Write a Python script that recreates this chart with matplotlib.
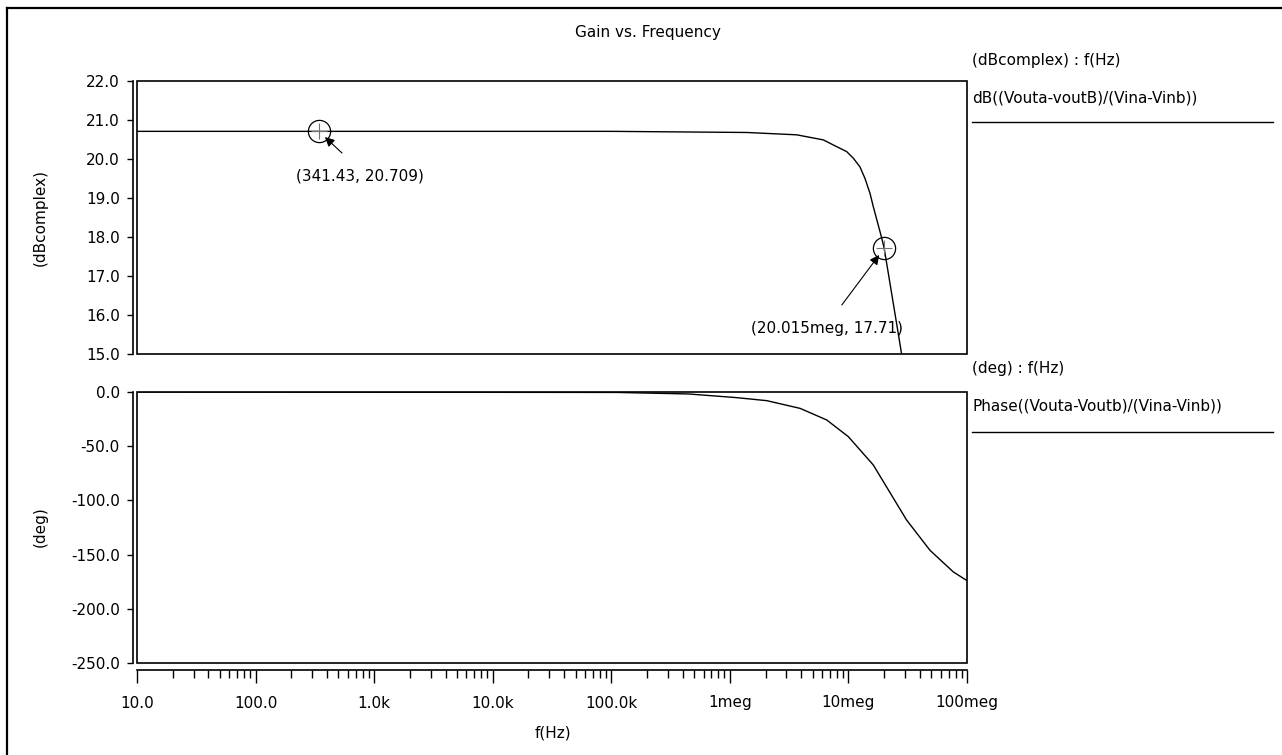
import matplotlib
matplotlib.use("Agg")
import matplotlib.pyplot as plt
from matplotlib.patches import Rectangle
from matplotlib.lines import Line2D
from matplotlib.ticker import FixedLocator, FixedFormatter, LogLocator, NullFormatter

plt.rcParams['font.family'] = ['DejaVu Sans']
plt.rcParams['font.size'] = 11

# gain curve
gain_freq = [10, 1e5, 1.39e6, 3.66e6, 6.14e6, 7.45e6, 9.66e6, 11.0e6, 12.5e6,
             13.8e6, 15.2e6, 16.2e6, 19.1e6, 20.015e6, 21.7e6, 27.2e6, 30e6]
gain_db = [20.709, 20.709, 20.68, 20.62, 20.49, 20.36, 20.19, 20.02, 19.80,
           19.50, 19.12, 18.78, 17.97, 17.71, 17.07, 15.26, 14.45]

# phase curve
phase_freq = [10, 1.11e5, 4.47e5, 1.14e6, 2.05e6, 3.91e6, 6.56e6, 9.98e6,
              16.2e6, 30.9e6, 48.7e6, 76.7e6, 1e8]
phase_deg = [0.0, -0.4, -1.8, -5.2, -8.0, -15.1, -25.8, -41.2,
             -67.3, -118.0, -146.0, -166.0, -174.0]

# markers
markers = [(341.43, 20.709), (20.015e6, 17.71)]
marker_labels = ["(341.43, 20.709)", "(20.015meg, 17.71)"]

gain_ticks = [15.0, 16.0, 17.0, 18.0, 19.0, 20.0, 21.0, 22.0]
phase_ticks = [-250.0, -200.0, -150.0, -100.0, -50.0, 0.0]
freq_ticks = [1e1, 1e2, 1e3, 1e4, 1e5, 1e6, 1e7, 1e8]
freq_labels = ["10.0", "100.0", "1.0k", "10.0k", "100.0k", "1meg", "10meg", "100meg"]

W, H = 1282, 755
fig = plt.figure(figsize=(W / 100, H / 100), dpi=100)
fig.patch.set_facecolor('white')

def px(x, y):
    return x / W, 1 - y / H

ax1 = fig.add_axes([137 / W, 1 - 354 / H, 830 / W, 273 / H])
ax2 = fig.add_axes([137 / W, 1 - 663 / H, 830 / W, 271 / H], sharex=ax1)

for ax in (ax1, ax2):
    ax.set_xscale('log')
    ax.set_xlim(10, 1e8)
    ax.add_patch(Rectangle((0, 0), 1, 1, transform=ax.transAxes, fill=False,
                           lw=1.2, ec='black', clip_on=False, zorder=3))
    ax.spines['top'].set_visible(False)
    ax.spines['right'].set_visible(False)
    ax.spines['left'].set_position(('outward', 2.9))
    ax.spines['left'].set_linewidth(1.2)
    ax.tick_params(axis='y', direction='out', length=4.5, width=1.0, pad=5, labelsize=11)

ax1.plot(gain_freq, gain_db, color='black', lw=1.0)
ax1.set_ylim(15, 22)
ax1.yaxis.set_major_locator(FixedLocator(gain_ticks))
ax1.yaxis.set_major_formatter(FixedFormatter(["%.1f" % v for v in gain_ticks]))
ax1.spines['bottom'].set_visible(False)
ax1.tick_params(axis='x', which='both', bottom=False, labelbottom=False)

ax2.plot(phase_freq, phase_deg, color='black', lw=1.0)
ax2.set_ylim(-250, 0)
ax2.yaxis.set_major_locator(FixedLocator(phase_ticks))
ax2.yaxis.set_major_formatter(FixedFormatter(["%.1f" % v for v in phase_ticks]))
ax2.spines['bottom'].set_position(('outward', 5))
ax2.spines['bottom'].set_linewidth(1.2)
ax2.xaxis.set_major_locator(FixedLocator(freq_ticks))
ax2.xaxis.set_major_formatter(FixedFormatter(freq_labels))
ax2.xaxis.set_minor_locator(LogLocator(base=10, subs=range(2, 10), numticks=20))
ax2.xaxis.set_minor_formatter(NullFormatter())
ax2.tick_params(axis='x', which='major', direction='out', length=9.4, width=1.0, pad=9, labelsize=11)
ax2.tick_params(axis='x', which='minor', direction='out', length=5.8, width=1.0)

# markers with annotations
text_offsets = [(29.5, -32.4), (-41.3, -57.6)]
arrow_tails = [(16.7, -15.6), (-30.5, -40.8)]
for (fx, gy), lab, toff, aoff in zip(markers, marker_labels, text_offsets, arrow_tails):
    ax1.plot([fx], [gy], marker='o', ms=16, mfc='none', mec='black', mew=0.9, zorder=4)
    ax1.plot([fx], [gy], marker='+', ms=11, mec='0.45', mew=0.8, zorder=4)
    ax1.annotate(lab, xy=(fx, gy), xytext=toff, textcoords='offset points',
                 ha='center', va='center', fontsize=11)
    ax1.annotate('', xy=(fx, gy), xytext=aoff, textcoords='offset points',
                 arrowprops=dict(arrowstyle='-|>', color='black', lw=0.8,
                                 mutation_scale=14, shrinkA=0, shrinkB=6))

# titles and labels
fig.text(*px(648, 32), "Gain vs. Frequency", ha='center', va='center', fontsize=11)
fig.text(*px(40, 217), "(dBcomplex)", rotation=90, ha='center', va='center', fontsize=11)
fig.text(*px(40, 527), "(deg)", rotation=90, ha='center', va='center', fontsize=11)
fig.text(*px(553, 733), "f(Hz)", ha='center', va='center', fontsize=11)

# legend texts on the right
fig.text(*px(972, 60), "(dBcomplex) : f(Hz)", ha='left', va='center', fontsize=11)
fig.text(*px(972, 98), "dB((Vouta-voutB)/(Vina-Vinb))", ha='left', va='center', fontsize=11)
fig.add_artist(Line2D([972 / W, 1273 / W], [1 - 122 / H, 1 - 122 / H], color='black', lw=1.0))
fig.text(*px(972, 369), "(deg) : f(Hz)", ha='left', va='center', fontsize=11)
fig.text(*px(972, 406), "Phase((Vouta-Voutb)/(Vina-Vinb))", ha='left', va='center', fontsize=11)
fig.add_artist(Line2D([972 / W, 1273 / W], [1 - 432 / H, 1 - 432 / H], color='black', lw=1.0))

# outer frame (left and top only)
fig.add_artist(Line2D([7 / W, 7 / W], [0, 1 - 8 / H], color='black', lw=1.6))
fig.add_artist(Line2D([7 / W, 1], [1 - 8 / H, 1 - 8 / H], color='black', lw=1.6))

fig.savefig("out.png", dpi=100)
